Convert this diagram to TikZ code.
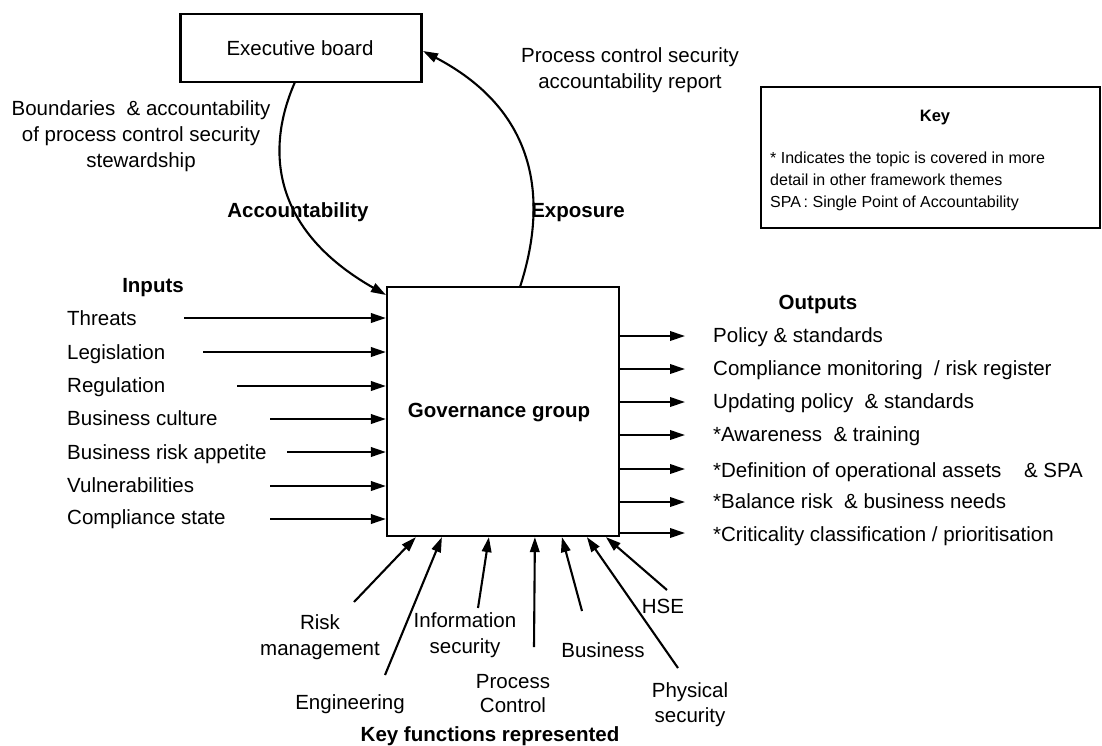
\documentclass[tikz,border=0pt]{standalone}
\usepackage{fontspec}
\setmainfont{Liberation Sans}
\usepackage{tikz}
\usetikzlibrary{positioning,arrows.meta}

\tikzset{
  box/.style={draw, line width=2.2pt, inner sep=0},
  lbl/.style={font=\fontsize{20.5}{26}\selectfont, inner sep=0, align=center},
  hdr/.style={font=\fontsize{20.5}{26}\selectfont\bfseries, inner sep=0},
  keytxt/.style={font=\fontsize{16}{21.7}\selectfont, inner sep=0, align=left},
  arr/.style={line width=2.1pt, -{Triangle[length=15pt,width=9.5pt]}},
}

\begin{document}
\begin{tikzpicture}[x=1pt,y=-1pt]
	\useasboundingbox (0,0) rectangle (1102,745);
	% boxes
	\node[box, minimum width=241pt, minimum height=68pt] (exec) at (301,48) {};
	\node[lbl, anchor=base] (execlbl) at (300,55) {Executive board};
	\node[box, minimum width=232pt, minimum height=249pt] (gov) at (503,411.5) {};
	\node[hdr, anchor=base] (govlbl) at (499,417) {Governance group};
	\node[box, line width=2.5pt, minimum width=339pt, minimum height=141pt] (key) at (930.5,157.5) {};
	\node[font=\fontsize{16.5}{20}\selectfont\bfseries, inner sep=0, anchor=base] (keyhd) at (935,121) {Key};
	\node[keytxt, anchor=north west] (keybody) at (770,152) {* Indicates the topic is covered in more\\detail in other framework themes\\SPA\,: Single Point of Accountability};

	% top loop
	\coordinate (accS) at (295,82);
	\coordinate (accE) at (386,295);
	\coordinate (expS) at (520,287);
	\coordinate (expE) at (423,51);
	\draw[arr] (accS) .. controls (265,150) and (272,230) .. (accE);
	\draw[arr] (expS) .. controls (545,210) and (545,115) .. (expE);
	\node[hdr, anchor=base] (acclbl) at (298,217) {Accountability};
	\node[hdr, anchor=base] (explbl) at (578,217) {Exposure};
	\node[lbl, anchor=north] (boundlbl) at (141,100) {Boundaries\ \ \& accountability\\of process control security\\stewardship};
	\node[lbl, anchor=north] (reportlbl) at (630,47) {Process control security\\accountability report};

	% inputs
	\node[hdr, anchor=base] (inputs) at (153,292) {Inputs};
	\node[lbl, anchor=base west] (threats) at (67,325) {Threats};
	\node[lbl, anchor=base west] (legis) at (67,359) {Legislation};
	\node[lbl, anchor=base west] (regul) at (67,392) {Regulation};
	\node[lbl, anchor=base west] (culture) at (67,425) {Business culture};
	\node[lbl, anchor=base west] (appetite) at (67,459) {Business risk appetite};
	\node[lbl, anchor=base west] (vulner) at (67,492) {Vulnerabilities};
	\node[lbl, anchor=base west] (compl) at (67,524) {Compliance state};
	\coordinate (threatsS) at (184,318);
	\coordinate (legisS) at (203,352);
	\coordinate (regulS) at (237,386);
	\coordinate (cultureS) at (270,419);
	\coordinate (appetiteS) at (287,452);
	\coordinate (vulnerS) at (270,486);
	\coordinate (complS) at (270,519);
	\draw[arr] (threatsS) -- (threatsS -| gov.west);
	\draw[arr] (legisS) -- (legisS -| gov.west);
	\draw[arr] (regulS) -- (regulS -| gov.west);
	\draw[arr] (cultureS) -- (cultureS -| gov.west);
	\draw[arr] (appetiteS) -- (appetiteS -| gov.west);
	\draw[arr] (vulnerS) -- (vulnerS -| gov.west);
	\draw[arr] (complS) -- (complS -| gov.west);

	% outputs
	\node[hdr, anchor=base] (outputs) at (818,309) {Outputs};
	\node[lbl, anchor=base west] (policy) at (713,342) {Policy \& standards};
	\node[lbl, anchor=base west] (monitor) at (713,375) {Compliance monitoring\ \ / risk register};
	\node[lbl, anchor=base west] (update) at (713,408) {Updating policy\ \ \& standards};
	\node[lbl, anchor=base west] (aware) at (713,441) {*Awareness\ \ \& training};
	\node[lbl, anchor=base west] (assets) at (713,477) {*Definition of operational assets\hspace{1.1em}\& SPA};
	\node[lbl, anchor=base west] (balance) at (713,508) {*Balance risk\ \ \& business needs};
	\node[lbl, anchor=base west] (critic) at (713,541) {*Criticality classification / prioritisation};
	\coordinate (policyE) at (685,336);
	\coordinate (monitorE) at (685,369);
	\coordinate (updateE) at (685,402);
	\coordinate (awareE) at (685,435);
	\coordinate (assetsE) at (685,469);
	\coordinate (balanceE) at (685,502);
	\coordinate (criticE) at (685,533);
	\draw[arr] (gov.east |- policyE) -- (policyE);
	\draw[arr] (gov.east |- monitorE) -- (monitorE);
	\draw[arr] (gov.east |- updateE) -- (updateE);
	\draw[arr] (gov.east |- awareE) -- (awareE);
	\draw[arr] (gov.east |- assetsE) -- (assetsE);
	\draw[arr] (gov.east |- balanceE) -- (balanceE);
	\draw[arr] (gov.east |- criticE) -- (criticE);

	% key functions
	\node[lbl, anchor=north] (risk) at (320,614) {Risk\\management};
	\node[lbl, anchor=base] (eng) at (350,709) {Engineering};
	\node[lbl, anchor=north] (info) at (465,612) {Information\\security};
	\node[lbl, anchor=north, font=\fontsize{20.5}{24}\selectfont] (proc) at (513,674) {Process\\Control};
	\node[lbl, anchor=base] (bus) at (603,657) {Business};
	\node[lbl, anchor=north, font=\fontsize{20.5}{25}\selectfont] (phys) at (690,682) {Physical\\security};
	\node[lbl, anchor=base] (hse) at (663,613) {HSE};
	\node[hdr, anchor=base] (keyfn) at (490,741) {Key functions represented};
	\coordinate (riskS) at (354,602);
	\coordinate (engS) at (385,675);
	\coordinate (infoS) at (478,608);
	\coordinate (procS) at (534,647);
	\coordinate (busS) at (582,611);
	\coordinate (physS) at (678,668);
	\coordinate (hseS) at (667,590);
	\draw[arr] (riskS) -- ([xshift=30pt]gov.south west);
	\draw[arr] (engS) -- ([xshift=56pt]gov.south west);
	\draw[arr] (infoS) -- ([xshift=103pt]gov.south west);
	\draw[arr] (procS) -- ([xshift=149pt]gov.south west);
	\draw[arr] (busS) -- ([xshift=176pt]gov.south west);
	\draw[arr] (physS) -- ([xshift=201pt]gov.south west);
	\draw[arr] (hseS) -- ([xshift=220pt]gov.south west);
\end{tikzpicture}
\end{document}
